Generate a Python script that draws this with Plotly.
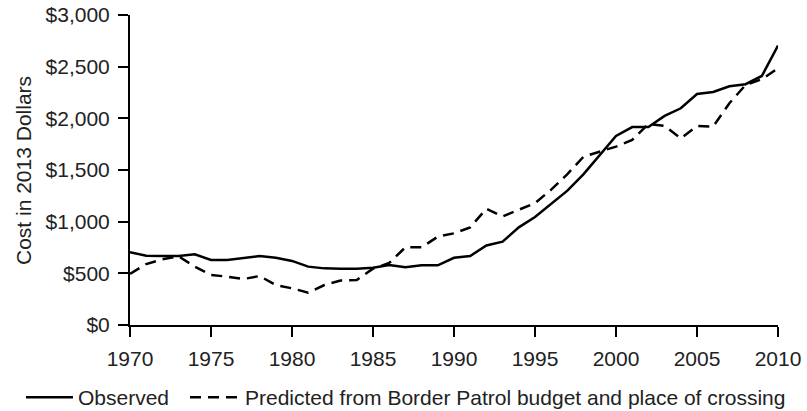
import plotly.graph_objects as go

years = list(range(1970, 2011))
observed = [705, 670, 668, 668, 684, 630, 630, 650, 668, 650,
            620, 565, 548, 545, 545, 555, 580, 560, 578, 578,
            650, 668, 770, 807, 945, 1045, 1175, 1300, 1460, 1646,
            1830, 1915, 1915, 2023, 2097, 2236, 2255, 2310, 2330, 2410,
            2705]
predicted = [495, 590, 636, 665, 565, 484, 468, 445, 474, 387,
             355, 313, 387, 430, 436, 545, 600, 752, 752, 855,
             887, 945, 1125, 1050, 1115, 1180, 1310, 1460, 1630, 1678,
             1726, 1791, 1946, 1926, 1807, 1925, 1920, 2146, 2323, 2378,
             2485]
x_ticks = list(range(1970, 2011, 5))
y_ticks = list(range(0, 3001, 500))
series_names = ["Observed", "Predicted from Border Patrol budget and place of crossing"]
y_title = "Cost in 2013 Dollars"

FONT = "Liberation Sans, Arial, Helvetica, sans-serif"
FS = 21
PLOT_W, PLOT_H = 648, 310

fig = go.Figure()
fig.add_trace(go.Scatter(x=years, y=observed, mode="lines", name=series_names[0],
                         line=dict(color="#000000", width=2.5), legend="legend"))
fig.add_trace(go.Scatter(x=years, y=predicted, mode="lines", name=series_names[1],
                         line=dict(color="#000000", width=2.5, dash="11px,7px"),
                         legend="legend2"))

legend_common = dict(orientation="h", xanchor="left", yanchor="middle",
                     y=-(397.5 - 325) / PLOT_H,
                     font=dict(size=FS, color="#222222"),
                     bgcolor="rgba(0,0,0,0)", borderwidth=0)

fig.update_layout(
    width=807, height=411,
    margin=dict(l=130, r=29, t=15, b=86, autoexpand=False),
    paper_bgcolor="white", plot_bgcolor="white",
    font=dict(family=FONT, size=FS, color="#222222"),
    showlegend=True,
    legend=dict(x=(21 - 130) / PLOT_W, itemwidth=47, **legend_common),
    legend2=dict(x=(185 - 130) / PLOT_W, itemwidth=50, **legend_common),
)
fig.update_xaxes(range=[1970, 2010], tickvals=x_ticks, ticktext=[str(v) for v in x_ticks],
                 showline=True, linecolor="#000000", linewidth=2,
                 ticks="outside", ticklen=10, tickwidth=2, tickcolor="#000000",
                 showgrid=False, zeroline=False, ticklabelstandoff=4, automargin=False)
fig.update_yaxes(range=[0, 3000], tickvals=y_ticks,
                 ticktext=["$" + format(v, ",") for v in y_ticks],
                 showline=True, linecolor="#000000", linewidth=2,
                 ticks="outside", ticklen=10, tickwidth=2, tickcolor="#000000",
                 showgrid=False, zeroline=False, ticklabelstandoff=4, automargin=False)
fig.add_annotation(text=y_title, xref="paper", yref="paper",
                   x=-107 / PLOT_W, y=0.5, xanchor="center", yanchor="middle",
                   textangle=-90, showarrow=False,
                   font=dict(family=FONT, size=FS, color="#222222"))

fig.write_html("out.html", config={"displayModeBar": False},
               post_script="document.body.style.margin='0';document.body.style.overflow='hidden';")
